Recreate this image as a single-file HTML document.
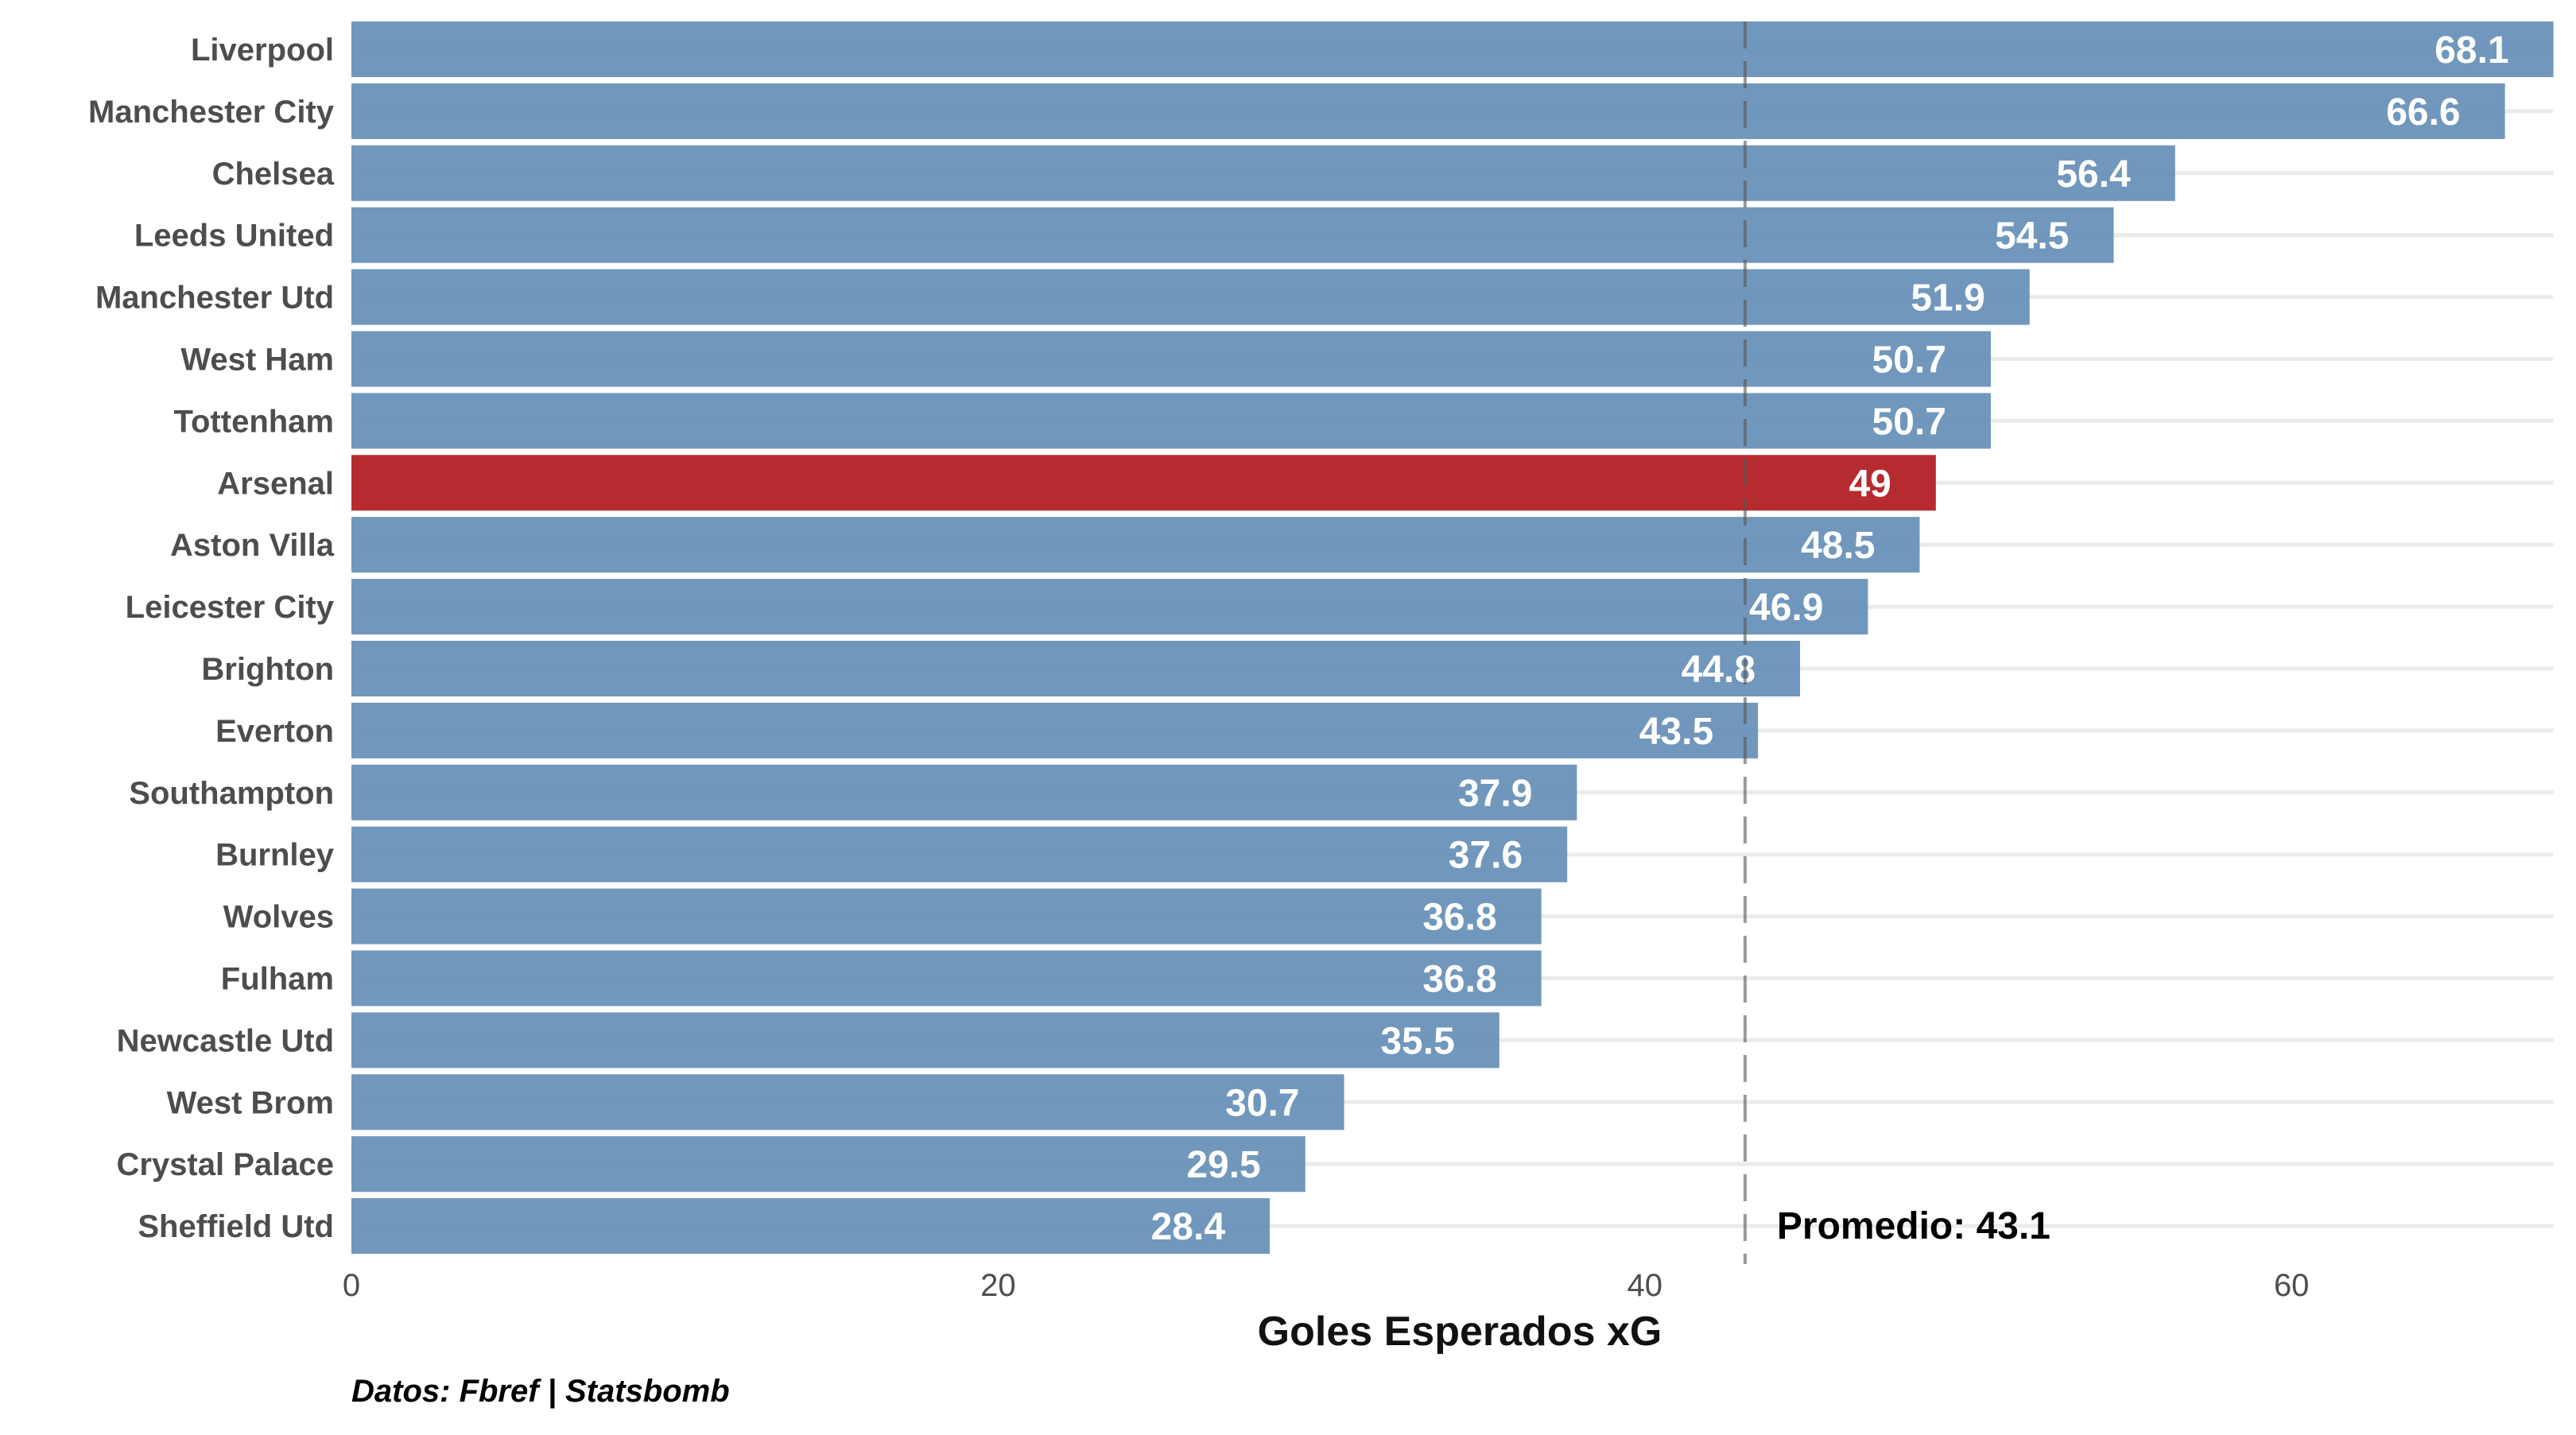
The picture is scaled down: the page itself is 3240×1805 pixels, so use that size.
<!DOCTYPE html>
<html><head><meta charset="utf-8"><style>
html,body{margin:0;padding:0;background:#fff;}
svg text{font-family:"Liberation Sans",sans-serif;}
</style></head><body>
<svg id="chart" width="3240" height="1800" viewBox="0 0 3240 1800" xmlns="http://www.w3.org/2000/svg">
<g id="grid"></g><g id="bars"></g><g id="labels"></g><g id="ticks"></g>
<text x="1836" y="1692" font-size="52" font-weight="bold" fill="#111" text-anchor="middle">Goles Esperados xG</text>
<text x="442" y="1763" font-size="40" font-weight="bold" font-style="italic" fill="#000">Datos: Fbref | Statsbomb</text>
</svg>
<script>
const teams=["Liverpool","Manchester City","Chelsea","Leeds United","Manchester Utd","West Ham","Tottenham","Arsenal","Aston Villa","Leicester City","Brighton","Everton","Southampton","Burnley","Wolves","Fulham","Newcastle Utd","West Brom","Crystal Palace","Sheffield Utd"];
const xg=[68.1,66.6,56.4,54.5,51.9,50.7,50.7,49,48.5,46.9,44.8,43.5,37.9,37.6,36.8,36.8,35.5,30.7,29.5,28.4];
const ticks=[0,20,40,60];
const highlight="Arsenal";
const avg=43.1;
const NS="http://www.w3.org/2000/svg";
const X=v=>442+v*40.67;
const Y=i=>62+i*77.9;
const xmax=X(68.1);
function mk(tag,attrs,parent,text){const e=document.createElementNS(NS,tag);for(const k in attrs)e.setAttribute(k,attrs[k]);if(text!==undefined)e.textContent=text;parent.appendChild(e);return e;}
const grid=document.getElementById('grid'),bars=document.getElementById('bars'),labels=document.getElementById('labels'),tk=document.getElementById('ticks'),svg=document.getElementById('chart');
teams.forEach((t,i)=>{
  const g=mk('line',{x1:442,x2:xmax,y1:Y(i),y2:Y(i),stroke:'#ebebeb','stroke-width':5},grid);
  
  
  const r=mk('rect',{x:X(0),y:Y(i)-35,width:X(xg[i])-X(0),height:70,fill:t===highlight?'#b22024':'#6991b8','fill-opacity':0.95},bars);
  
  
  const l=mk('text',{x:420,y:Y(i)+14,'font-size':40,'font-weight':'bold',fill:'#4d4d4d','text-anchor':'end'},labels,t);
  
  
  const v=mk('text',{x:X(xg[i])-56,y:Y(i)+17,'font-size':48,'font-weight':'bold',fill:'#fff','text-anchor':'end'},labels,String(xg[i]));
  
  
});
ticks.forEach(t=>{
  const e=mk('text',{x:X(t),y:1630,'font-size':40,fill:'#4d4d4d','text-anchor':'middle'},tk,String(t));
  
  
});
const al=mk('line',{x1:X(avg),x2:X(avg),y1:27,y2:1590,stroke:'#555','stroke-opacity':0.6,'stroke-width':4,'stroke-dasharray':'34 16'},svg);


const at=mk('text',{x:X(avg)+40,y:1558,'font-size':48,'font-weight':'bold',fill:'#000'},svg,'Promedio: '+avg);


</script>
</body></html>
